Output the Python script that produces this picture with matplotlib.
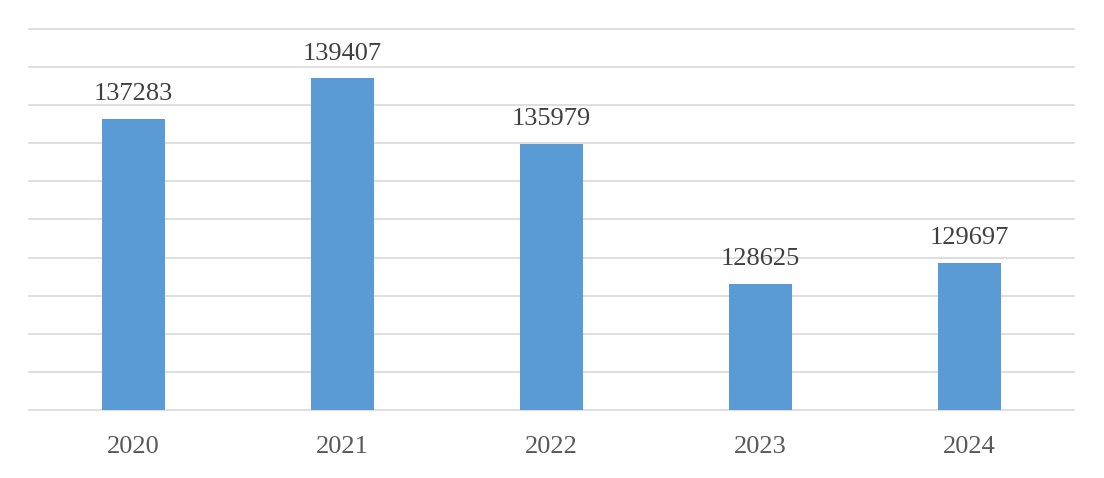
import matplotlib.pyplot as plt

years = ['2020', '2021', '2022', '2023', '2024']
values = [137283, 139407, 135979, 128625, 129697]

plt.rcParams['font.family'] = ['Liberation Serif', 'DejaVu Serif']

dpi = 100
fig = plt.figure(figsize=(1104 / dpi, 478 / dpi), dpi=dpi)
ax = fig.add_axes([0.0263, 0.1423, 0.9465, 0.797])

xs = range(len(years))
bars = ax.bar(xs, values, width=0.30, color='#5B9BD5', zorder=2)

ax.set_xlim(-0.5, len(years) - 0.5)
ax.set_ylim(122000, 142000)
ax.set_yticks(range(122000, 142001, 2000))
ax.yaxis.grid(True, color='#D9D9D9', linewidth=1.2, zorder=1)
for gl in ax.get_ygridlines():
    gl.set_clip_on(False)
ax.tick_params(axis='y', left=False, labelleft=False)
ax.tick_params(axis='x', length=0, pad=19, labelsize=19, labelcolor='#595959')
ax.set_xticks(list(xs))
ax.set_xticklabels(years)
for s in ax.spines.values():
    s.set_visible(False)

for x, v in zip(xs, values):
    ax.annotate(str(v), (x, v), xytext=(0, 10), textcoords='offset points',
                ha='center', va='bottom', fontsize=19, color='#404040')

fig.savefig('out.png', dpi=dpi)
